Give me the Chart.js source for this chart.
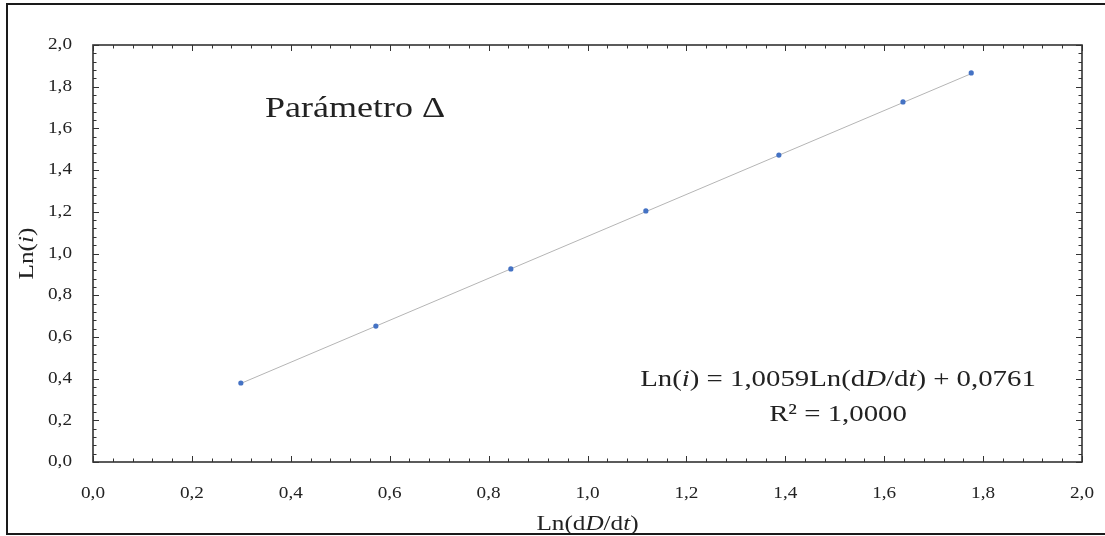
<!DOCTYPE html>
<html>
<head>
<meta charset="utf-8">
<script src="https://cdn.jsdelivr.net/npm/chart.js@4/dist/chart.umd.min.js"></script>
<style>
  html, body { margin: 0; padding: 0; background: #ffffff; }
  canvas { display: block; }
</style>
</head>
<body>
<canvas id="chart" width="1105" height="536"></canvas>
<script>
// Measured points: Ln(dD/dt) against Ln(i)
const lnRate = [0.299, 0.572, 0.845, 1.118, 1.387, 1.638, 1.776];
const lnCurrent = [0.379, 0.652, 0.926, 1.204, 1.472, 1.727, 1.866];

// Linear fit stated on the chart
const fitSlope = 1.0059;
const fitIntercept = 0.0761;
const fitR2 = '1,0000';

// Axis ticks
const xTickValues = [0.0, 0.2, 0.4, 0.6, 0.8, 1.0, 1.2, 1.4, 1.6, 1.8, 2.0];
const yTickValues = [0.0, 0.2, 0.4, 0.6, 0.8, 1.0, 1.2, 1.4, 1.6, 1.8, 2.0];
const minorStep = 0.04;

const SERIF = '"Liberation Serif", "DejaVu Serif", serif';
const INK = '#222222';
const STRETCH = 1.2; // widen the serif face to a roman-text proportion

const fmt = v => v.toFixed(1).replace('.', ',');

// Trend line across the data range, from the fitted equation
const xFirst = Math.min(...lnRate);
const xLast = Math.max(...lnRate);
const trendPoints = [
  { x: xFirst, y: fitSlope * xFirst + fitIntercept },
  { x: xLast, y: fitSlope * xLast + fitIntercept }
];

// Draw a run of text pieces, some italic, as one line (horizontally widened)
function drawRich(ctx, pieces, x, y, size, align) {
  const fontOf = p => (p.it ? 'italic ' : '') + size + 'px ' + SERIF;
  let total = 0;
  pieces.forEach(p => { ctx.font = fontOf(p); total += ctx.measureText(p.t).width; });
  const w = total * STRETCH;
  const start = align === 'center' ? x - w / 2 : (align === 'right' ? x - w : x);
  ctx.save();
  ctx.translate(start, y);
  ctx.scale(STRETCH, 1);
  ctx.textAlign = 'left';
  let cx = 0;
  pieces.forEach(p => {
    ctx.font = fontOf(p);
    ctx.fillText(p.t, cx, 0);
    cx += ctx.measureText(p.t).width;
  });
  ctx.restore();
}

const framePlugin = {
  id: 'frame',
  afterDatasetsDraw(chart) {
    const ctx = chart.ctx;
    const xs = chart.scales.x, ys = chart.scales.y;
    const a = chart.chartArea;
    ctx.save();

    // inward ticks on all four sides
    ctx.strokeStyle = '#333333';
    ctx.lineWidth = 1;
    const isMajor = v => Math.abs(v / 0.2 - Math.round(v / 0.2)) < 1e-6;
    for (let i = 0; i <= Math.round(2 / minorStep); i++) {
      const v = i * minorStep;
      const len = isMajor(v) ? 6 : 3.5;
      const px = Math.round(xs.getPixelForValue(v)) + 0.5;
      const py = Math.round(ys.getPixelForValue(v)) + 0.5;
      ctx.beginPath();
      ctx.moveTo(px, a.bottom); ctx.lineTo(px, a.bottom - len);
      ctx.moveTo(px, a.top); ctx.lineTo(px, a.top + len);
      ctx.moveTo(a.left, py); ctx.lineTo(a.left + len, py);
      ctx.moveTo(a.right, py); ctx.lineTo(a.right - len, py);
      ctx.stroke();
    }

    // plot frame
    ctx.lineWidth = 1.6;
    ctx.strokeStyle = '#333333';
    ctx.strokeRect(a.left, a.top, a.right - a.left, a.bottom - a.top);

    // tick labels
    ctx.fillStyle = INK;
    ctx.textBaseline = 'middle';
    yTickValues.forEach(v => drawRich(ctx, [{ t: fmt(v) }], 72, ys.getPixelForValue(v), 16, 'right'));
    xTickValues.forEach(v => drawRich(ctx, [{ t: fmt(v) }], xs.getPixelForValue(v), 494, 16, 'center'));

    // axis titles
    ctx.textBaseline = 'alphabetic';
    drawRich(ctx, [{ t: 'Ln(d' }, { t: 'D', it: true }, { t: '/d' }, { t: 't', it: true }, { t: ')' }],
      (a.left + a.right) / 2, 530, 21, 'center');
    ctx.save();
    ctx.translate(33, (a.top + a.bottom) / 2);
    ctx.rotate(-Math.PI / 2);
    drawRich(ctx, [{ t: 'Ln(' }, { t: 'i', it: true }, { t: ')' }], 0, 0, 21, 'center');
    ctx.restore();

    // panel heading
    drawRich(ctx, [{ t: 'Parámetro Δ' }], 265, 117, 30, 'left');

    // fit equation
    drawRich(ctx, [
      { t: 'Ln(' }, { t: 'i', it: true },
      { t: ') = ' + fitSlope.toFixed(4).replace('.', ',') + 'Ln(d' },
      { t: 'D', it: true }, { t: '/d' }, { t: 't', it: true },
      { t: ') + ' + fitIntercept.toFixed(4).replace('.', ',') }
    ], 838, 386, 24, 'center');
    drawRich(ctx, [{ t: 'R² = ' + fitR2 }], 838, 421, 24, 'center');

    // outer border
    ctx.lineWidth = 2;
    ctx.strokeStyle = '#1a1a1a';
    ctx.beginPath();
    ctx.moveTo(1105, 4); ctx.lineTo(7, 4); ctx.lineTo(7, 534); ctx.lineTo(1105, 534);
    ctx.stroke();

    ctx.restore();
  }
};

new Chart(document.getElementById('chart'), {
  type: 'scatter',
  data: {
    datasets: [
      {
        data: lnRate.map((x, i) => ({ x, y: lnCurrent[i] })),
        backgroundColor: '#4472c4',
        borderWidth: 0,
        pointRadius: 2.6,
        order: 0
      },
      {
        data: trendPoints,
        showLine: true,
        borderColor: '#b5b5b5',
        borderWidth: 1,
        pointRadius: 0,
        order: 1
      }
    ]
  },
  options: {
    responsive: false,
    devicePixelRatio: 1,
    animation: false,
    layout: { padding: { left: 93, right: 23, top: 45, bottom: 74 } },
    plugins: { legend: { display: false }, tooltip: { enabled: false } },
    scales: {
      x: { type: 'linear', min: 0, max: 2, display: false },
      y: { type: 'linear', min: 0, max: 2, display: false }
    }
  },
  plugins: [framePlugin]
});
</script>
</body>
</html>
